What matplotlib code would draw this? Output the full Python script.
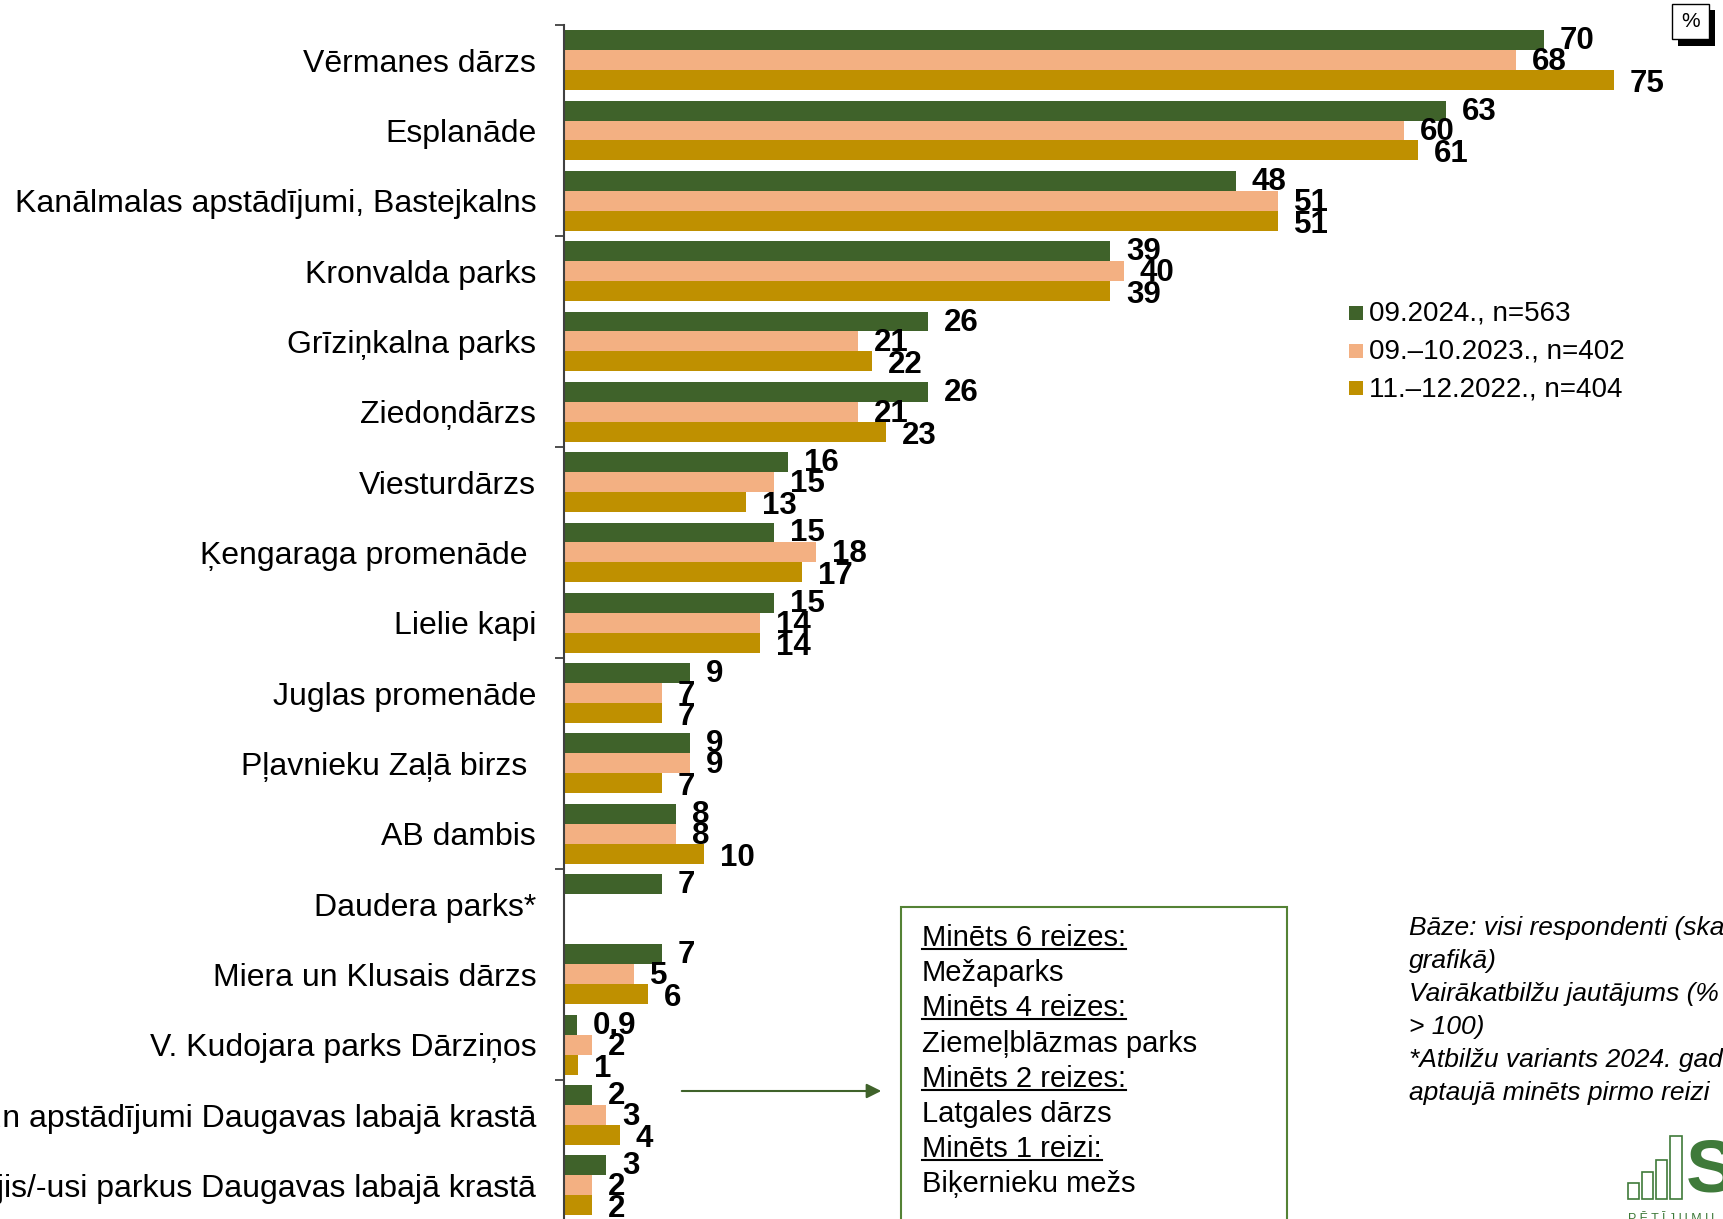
import matplotlib
matplotlib.use('Agg')
import matplotlib.pyplot as plt
from matplotlib.patches import Rectangle, FancyArrowPatch
from matplotlib.lines import Line2D
import numpy as np

plt.rcParams['font.family'] = ['Liberation Sans', 'DejaVu Sans']

categories = [
    "Vērmanes dārzs",
    "Esplanāde",
    "Kanālmalas apstādījumi, Bastejkalns",
    "Kronvalda parks",
    "Grīziņkalna parks",
    "Ziedoņdārzs",
    "Viesturdārzs",
    "Ķengaraga promenāde ",
    "Lielie kapi",
    "Juglas promenāde",
    "Pļavnieku Zaļā birzs ",
    "AB dambis",
    "Daudera parks*",
    "Miera un Klusais dārzs",
    "V. Kudojara parks Dārziņos",
    "Citi parki un apstādījumi Daugavas labajā krastā",
    "Nav apmeklējis/-usi parkus Daugavas labajā krastā",
]
series_names = ["09.2024., n=563", "09.–10.2023., n=402", "11.–12.2022., n=404"]
v2024 = [70, 63, 48, 39, 26, 26, 16, 15, 15, 9, 9, 8, 7, 7, 0.9, 2, 3]
v2023 = [68, 60, 51, 40, 21, 21, 15, 18, 14, 7, 9, 8, None, 5, 2, 3, 2]
v2022 = [75, 61, 51, 39, 22, 23, 13, 17, 14, 7, 7, 10, None, 6, 1, 4, 2]
colors = ["#3F622A", "#F3B082", "#BF9000"]

box_lines = [
    ("Minēts 6 reizes:", True),
    ("Mežaparks", False),
    ("Minēts 4 reizes:", True),
    ("Ziemeļblāzmas parks", False),
    ("Minēts 2 reizes:", True),
    ("Latgales dārzs", False),
    ("Minēts 1 reizi:", True),
    ("Biķernieku mežs", False),
]
notes = [
    "Bāze: visi respondenti (skaits norādīts",
    "grafikā)",
    "Vairākatbilžu jautājums (% summa",
    "> 100)",
    "*Atbilžu variants 2024. gada",
    "aptaujā minēts pirmo reizi",
]

W, H = 1724, 1219
fig = plt.figure(figsize=(W / 100, H / 100), dpi=100)


def fx(px):
    return px / W


def fy(py):
    return 1 - py / H


# axes geometry (pixels)
ax_left = 564
top_px = 25
step = 70.4
y0 = 59
bottom_px = y0 + step * (len(categories) - 0.5)
ax = fig.add_axes([fx(ax_left), fy(bottom_px), 1 - fx(ax_left), (bottom_px - top_px) / H])
ax.set_xlim(0, (W - ax_left) / 14.0)
ax.set_ylim(len(categories) - 0.5, -0.5)

bh = 20 / step
ypos = np.arange(len(categories))
offsets = [-bh, 0, bh]
label_dy = [-1, -2, -4]
series = [v2024, v2023, v2022]
for s, (vals, off, col, name, ldy) in enumerate(zip(series, offsets, colors, series_names, label_dy)):
    for i, v in enumerate(vals):
        if v is None:
            continue
        ax.barh(ypos[i] + off, v, height=bh, color=col, edgecolor='none')
        lab = f"{v:g}"
        ax.annotate(lab, (v, ypos[i] + off), xytext=(16, ldy), textcoords='offset pixels',
                    ha='left', va='center', fontsize=22.5, fontweight='bold', color='black',
                    annotation_clip=False)

for sp in ['top', 'right', 'bottom']:
    ax.spines[sp].set_visible(False)
ax.spines['left'].set_color('#404040')
ax.spines['left'].set_linewidth(1.5)
ax.set_xticks([])
ax.set_yticks(ypos)
ax.set_yticklabels(categories, fontsize=23)
ax.tick_params(axis='y', which='major', length=0, pad=20)
ax.set_yticks([-0.5, 2.5, 5.5, 8.5, 11.5, 14.5], minor=True)
ax.tick_params(axis='y', which='minor', length=6.5, width=1.3, color='#404040', direction='out')

# legend (manual)
leg_y = [313, 351, 388]
for name, col, ly in zip(series_names, colors, leg_y):
    fig.patches.append(Rectangle((fx(1349), fy(ly + 7)), 14 / W, 14 / H, transform=fig.transFigure,
                                 facecolor=col, edgecolor='none'))
    fig.text(fx(1369), fy(ly + 1), name, fontsize=20, va='center', ha='left')

# % box
fig.patches.append(Rectangle((fx(1678), fy(46)), 37 / W, 36 / H, transform=fig.transFigure,
                             facecolor='black', edgecolor='none'))
fig.patches.append(Rectangle((fx(1672), fy(39)), 37 / W, 35 / H, transform=fig.transFigure,
                             facecolor='white', edgecolor='black', linewidth=1))
fig.text(fx(1690.5), fy(21.5), "%", fontsize=15, ha='center', va='center')

# text box
fig.patches.append(Rectangle((fx(901), fy(1240)), (1287 - 901) / W, (1240 - 907) / H,
                             transform=fig.transFigure, facecolor='white',
                             edgecolor='#548235', linewidth=1.5))
box_texts = []
for k, (t, ul) in enumerate(box_lines):
    yy = 938 + 35.2 * k
    tx = fig.text(fx(922), fy(yy), t, fontsize=21, ha='left', va='center')
    box_texts.append((tx, ul))

# arrow
arr = FancyArrowPatch((fx(679), fy(1091)), (fx(884), fy(1091)), transform=fig.transFigure,
                      arrowstyle='-|>', mutation_scale=22, color='#3F622A', linewidth=1.5)
fig.patches.append(arr)

# notes
for k, t in enumerate(notes):
    fig.text(fx(1409), fy(928 + 33 * k), t, fontsize=19, style='italic', ha='left', va='center')

# logo (approximate)
logo_green = '#3F7A3A'
for (bx, bw, bt) in [(1628, 11, 1183), (1642, 11, 1172), (1656, 11, 1160), (1670, 12, 1136)]:
    fig.patches.append(Rectangle((fx(bx), fy(1199)), bw / W, (1199 - bt) / H, transform=fig.transFigure,
                                 facecolor='white', edgecolor=logo_green, linewidth=1.2))
fig.text(fx(1686), fy(1172), "S", fontsize=54, color=logo_green, ha='left', va='center',
         fontweight='bold')
fig.text(fx(1628), fy(1219), "P Ē T Ī J U M U", fontsize=9, color=logo_green, ha='left', va='center')

# underlines
fig.canvas.draw()
r = fig.canvas.get_renderer()
for tx, ul in box_texts:
    if not ul:
        continue
    bb = tx.get_window_extent(renderer=r)
    ybase = bb.y0 + 3
    fig.lines.append(Line2D([bb.x0 / W, bb.x1 / W], [ybase / H, ybase / H], transform=fig.transFigure,
                            color='black', linewidth=1.5))

fig.savefig("out.png", dpi=100)
